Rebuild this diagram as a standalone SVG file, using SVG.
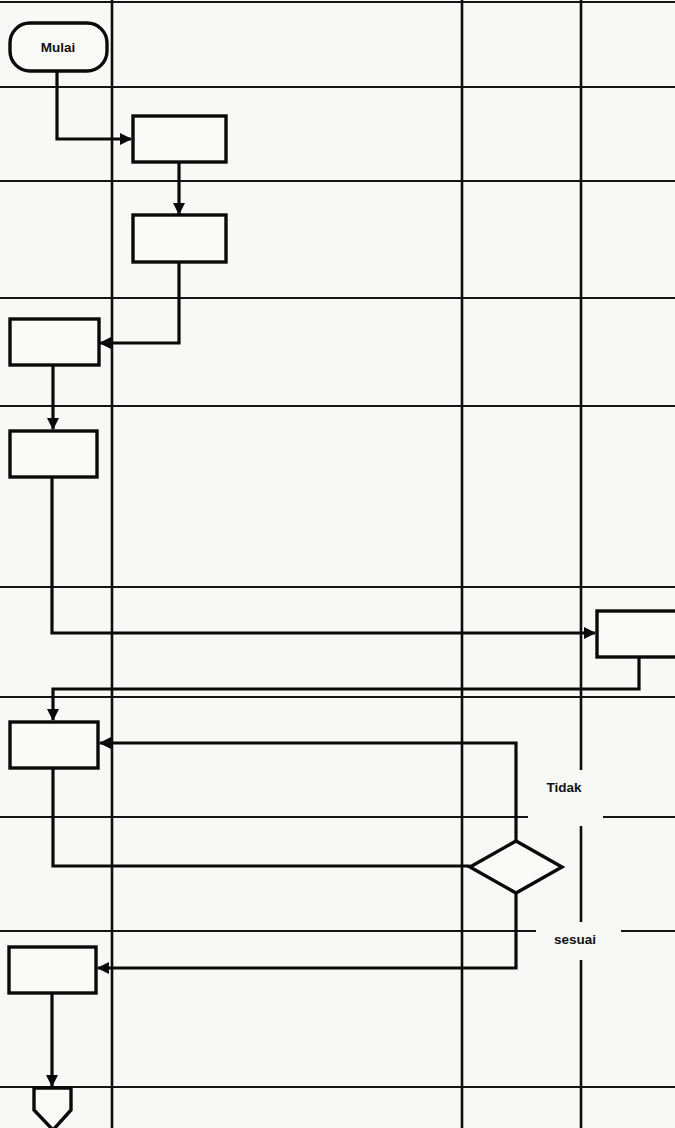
<svg xmlns="http://www.w3.org/2000/svg" width="675" height="1128" viewBox="0 0 675 1128">
<style>
.grid{stroke:#141414;stroke-width:1.8;fill:none}
.vgrid{stroke:#0d0d0d;stroke-width:2.6;fill:none}
.node{fill:#fafaf9;stroke:#0a0a0a;stroke-width:3.4}
.conn{fill:none;stroke:#0a0a0a;stroke-width:3.2}
.lbl{font-family:"Liberation Sans",Arial,sans-serif;font-weight:bold;font-size:13.5px;fill:#111}
</style>
<defs>
<marker id="ah" markerWidth="12" markerHeight="12" refX="11" refY="6" orient="auto" markerUnits="userSpaceOnUse">
<path d="M0,0 L12,6 L0,12 Z" fill="#0a0a0a"/>
</marker>
</defs>
<rect x="0" y="0" width="675" height="1128" fill="#f8f8f7"/>
<g id="grid">
<line class="grid" x1="0" y1="2" x2="675" y2="2"/>
<line class="grid" x1="0" y1="87" x2="675" y2="87"/>
<line class="grid" x1="0" y1="181" x2="675" y2="181"/>
<line class="grid" x1="0" y1="298" x2="675" y2="298"/>
<line class="grid" x1="0" y1="406" x2="675" y2="406"/>
<line class="grid" x1="0" y1="587" x2="675" y2="587"/>
<line class="grid" x1="0" y1="697" x2="675" y2="697"/>
<line class="grid" x1="0" y1="817" x2="528" y2="817"/>
<line class="grid" x1="603" y1="817" x2="675" y2="817"/>
<line class="grid" x1="0" y1="931" x2="536" y2="931"/>
<line class="grid" x1="621" y1="931" x2="675" y2="931"/>
<line class="grid" x1="0" y1="1087" x2="675" y2="1087"/>
<line class="vgrid" x1="112" y1="0" x2="112" y2="1128"/>
<line class="vgrid" x1="462" y1="0" x2="462" y2="1128"/>
<line class="vgrid" x1="581" y1="0" x2="581" y2="770"/>
<line class="vgrid" x1="581" y1="826" x2="581" y2="922"/>
<line class="vgrid" x1="581" y1="960" x2="581" y2="1128"/>
</g>
<g id="connectors">
<polyline class="conn" points="57,71 57,139 131,139" marker-end="url(#ah)"/>
<polyline class="conn" points="179,162 179,214" marker-end="url(#ah)"/>
<polyline class="conn" points="179,262 179,343 100,343" marker-end="url(#ah)"/>
<polyline class="conn" points="53,365 53,429" marker-end="url(#ah)"/>
<polyline class="conn" points="52,477 52,633 595,633" marker-end="url(#ah)"/>
<polyline class="conn" points="639,657 639,689 53,689 53,720" marker-end="url(#ah)"/>
<polyline class="conn" points="53,768 53,866 470,866"/>
<polyline class="conn" points="516,841 516,743 100,743" marker-end="url(#ah)"/>
<polyline class="conn" points="516,893 516,968 98,968" marker-end="url(#ah)"/>
<polyline class="conn" points="52,993 52,1086" marker-end="url(#ah)"/>
</g>
<g id="mulai">
<rect class="node" x="10" y="23" width="97" height="48" rx="20" ry="20"/>
<text class="lbl" x="58" y="51.5" text-anchor="middle" font-size="12.5">Mulai</text>
</g>
<g id="box1"><rect class="node" x="133" y="116" width="93" height="46"/></g>
<g id="box2"><rect class="node" x="133" y="215" width="93" height="47"/></g>
<g id="box3"><rect class="node" x="10" y="319" width="89" height="46"/></g>
<g id="box4"><rect class="node" x="10" y="431" width="87" height="46"/></g>
<g id="box-right"><rect class="node" x="597" y="611" width="90" height="46"/></g>
<g id="box5"><rect class="node" x="10" y="722" width="88" height="46"/></g>
<g id="decision"><polygon class="node" points="470,867 516,841 562,867 516,893"/></g>
<g id="box6"><rect class="node" x="9" y="947" width="87" height="46"/></g>
<g id="offpage"><polygon class="node" points="34,1088 71,1088 71,1110 53,1130 34,1110"/></g>
<g id="labels">
<text class="lbl" x="564" y="792" text-anchor="middle">Tidak</text>
<text class="lbl" x="575" y="944" text-anchor="middle">sesuai</text>
</g>
</svg>
